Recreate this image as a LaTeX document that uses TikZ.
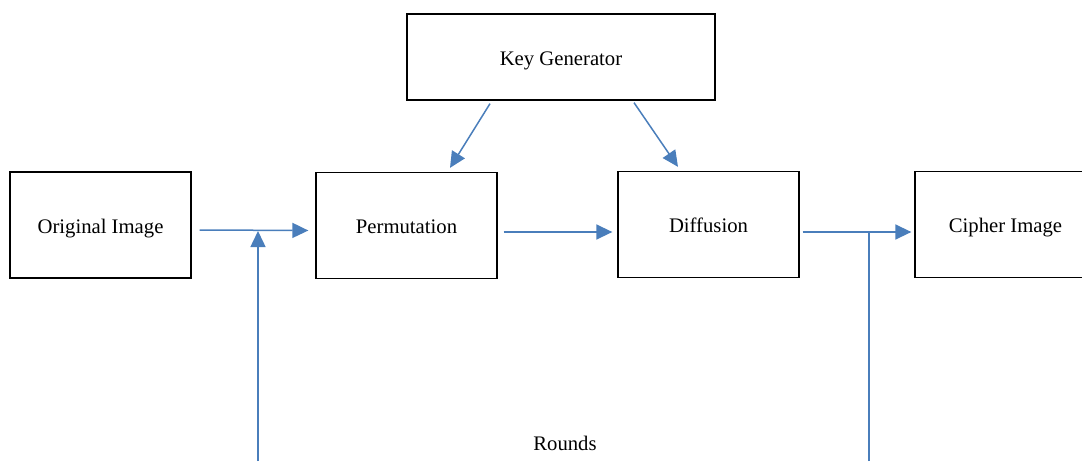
\documentclass[tikz,border=0pt]{standalone}
\usepackage{fontspec}
\setmainfont{Liberation Serif}
\usetikzlibrary{arrows.meta}
\definecolor{flowblue}{RGB}{74,126,187}

\begin{document}
\begin{tikzpicture}[
  x=1pt, y=-1pt,
  block/.style={draw, thick, line width=1.3pt, rectangle, minimum width=181pt, minimum height=106pt, inner sep=0pt, text height=16pt, text depth=0pt, font=\fontsize{20.7}{24}\selectfont},
  flow/.style={flowblue, line width=1.5pt, -{Triangle[length=16pt, width=15pt]}},
  plain/.style={flowblue, line width=1.5pt}
]
\clip (0,0) rectangle (1082,461);

\node[block, minimum width=308pt, minimum height=86pt] (keygen) at (561,57) {Key Generator};
\node[block] (orig) at (100.5,225) {Original Image};
\node[block] (perm) at (406.5,225.5) {Permutation};
\node[block] (diff) at (708.5,224.5) {Diffusion};
\node[block] (cipher) at (1005.5,224.5) {Cipher Image};
\node[font=\fontsize{20.7}{24}\selectfont] (rounds) at (565,443) {Rounds};

% main chain
\draw[flow] ([xshift=8pt,yshift=-5pt]orig.east) -- ([xshift=-7pt,yshift=-5pt]perm.west);
\draw[flow] ([xshift=6pt,yshift=-6.5pt]perm.east) -- ([xshift=-5pt,yshift=-7.5pt]diff.west);
\draw[flow] ([xshift=3pt,yshift=-7.5pt]diff.east) -- ([xshift=-3pt,yshift=-7.5pt]cipher.west);

% key inputs
\draw[flow] ([xshift=-71pt,yshift=-3pt]keygen.south) -- ([xshift=43.5pt,yshift=4pt]perm.north);
\draw[flow] ([xshift=73pt,yshift=-2pt]keygen.south) -- ([xshift=-30.5pt,yshift=4pt]diff.north);

% rounds loop
\coordinate (loopin) at (258,461);
\coordinate (loopjoin) at (258,231);
\coordinate (loopout) at (869,461);
\coordinate (loopsplit) at (869,232);
\draw[flow] (loopin) -- (loopjoin);
\draw[plain] (loopout) -- (loopsplit) -- ++(-14,0);
\end{tikzpicture}
\end{document}
